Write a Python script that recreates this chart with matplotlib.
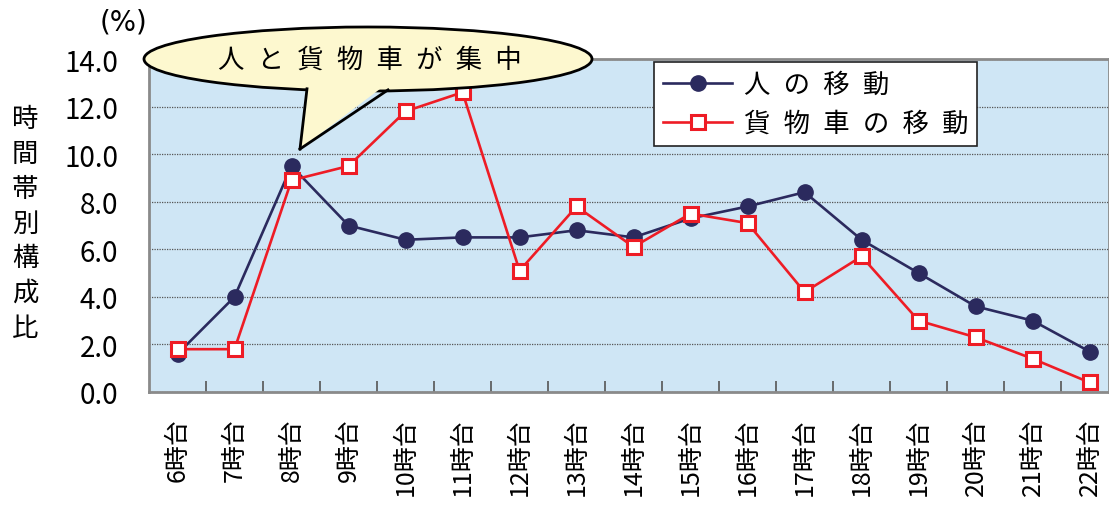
"""Hourly share of person trips vs. freight-vehicle trips."""
import matplotlib
matplotlib.use("Agg")
import matplotlib.pyplot as plt
from matplotlib.patches import Ellipse, Polygon
from matplotlib.lines import Line2D

plt.rcParams["font.family"] = ["Noto Sans CJK JP", "DejaVu Sans"]

hours = ["6時台", "7時台", "8時台", "9時台", "10時台", "11時台", "12時台", "13時台",
         "14時台", "15時台", "16時台", "17時台", "18時台", "19時台", "20時台", "21時台", "22時台"]
person = [1.6, 4.0, 9.5, 7.0, 6.4, 6.5, 6.5, 6.8, 6.5, 7.3, 7.8, 8.4, 6.4, 5.0, 3.6, 3.0, 1.7]
freight = [1.8, 1.8, 8.9, 9.5, 11.8, 12.6, 5.1, 7.8, 6.1, 7.5, 7.1, 4.2, 5.7, 3.0, 2.3, 1.4, 0.4]
yticks = [0.0, 2.0, 4.0, 6.0, 8.0, 10.0, 12.0, 14.0]
ylabel = "時間帯別構成比"
label_person = "人\u2002の\u2002移\u2002動"
label_freight = "貨\u2002物\u2002車\u2002の\u2002移\u2002動"
callout = "人\u2002と\u2002貨\u2002物\u2002車\u2002が\u2002集\u2002中"

W, H = 1109, 506
NAVY = "#2b2a5e"
RED = "#ee1c25"


def fx(px):
    return px / W


def fy(py):
    return 1 - py / H


fig = plt.figure(figsize=(W / 100, H / 100), dpi=100)
ax = fig.add_axes([fx(149), fy(393), 1 - fx(149), fy(60) - fy(393)])
ax.set_facecolor("#cfe6f5")

x = list(range(len(hours)))
ax.plot(x, person, color=NAVY, lw=1.9, marker="o", ms=11, mfc=NAVY, mec=NAVY,
        label=label_person, zorder=3)
ax.plot(x, freight, color=RED, lw=1.9, marker="s", ms=10, mfc="white", mec=RED,
        mew=2.2, label=label_freight, zorder=4)

ax.set_ylim(0, 14)
ax.set_yticks(yticks)
ax.set_yticklabels([f"{v:.1f}" for v in yticks], fontsize=20)
ax.tick_params(axis="y", length=0, pad=22)
ax.grid(axis="y", color="#555555", ls=(0, (1, 1)), lw=0.9)
ax.set_axisbelow(True)

ax.set_xlim(-0.5, 16.34)
ax.set_xticks(x)
ax.set_xticklabels(hours, rotation=90, fontsize=18, va="top")
ax.set_xticks([i + 0.5 for i in x[:-1]], minor=True)
ax.tick_params(axis="x", which="major", length=0, pad=18)
ax.tick_params(axis="x", which="minor", direction="in", length=8, width=1.2, color="#555555")

for side in ax.spines.values():
    side.set_color("#8a8a8a")
    side.set_linewidth(2)

leg = ax.legend(loc="upper left", bbox_to_anchor=(fx(654 - 149) / (1 - fx(149)), 1 - 3 / 333),
                fontsize=19, frameon=True, fancybox=False, framealpha=1, edgecolor="#222222",
                handlelength=2.6, handletextpad=0.45, borderpad=0.35, labelspacing=0.45,
                borderaxespad=0)
leg.get_frame().set_linewidth(1.2)

# y-axis title, stacked vertically, and unit
fig.text(fx(25), fy(224), "\n".join(ylabel), fontsize=19, ha="center", va="center",
         linespacing=1.37)
fig.text(fx(123), fy(22), "(%)", fontsize=20, ha="center", va="center",
         family=["DejaVu Sans"])

# speech bubble pointing at the morning peak
bubble_fc = "#fdf8cf"
ell = Ellipse((fx(368), fy(60)), 448 / W, 64 / H, transform=fig.transFigure,
              facecolor=bubble_fc, edgecolor="black", lw=2, zorder=10)
fig.patches.append(ell)
tail = Polygon([(fx(307), fy(84)), (fx(300), fy(150)), (fx(388), fy(84))],
               closed=True, transform=fig.transFigure, facecolor=bubble_fc,
               edgecolor="none", zorder=11)
fig.patches.append(tail)
for bx, by in [(307, 89.8), (388, 90.9)]:
    fig.lines.append(Line2D([fx(bx), fx(300)], [fy(by), fy(150)],
                            transform=fig.transFigure, color="black", lw=2, zorder=12))
fig.text(fx(370), fy(60), callout, fontsize=19, ha="center", va="center", zorder=13)

fig.savefig("out.png", dpi=100)
